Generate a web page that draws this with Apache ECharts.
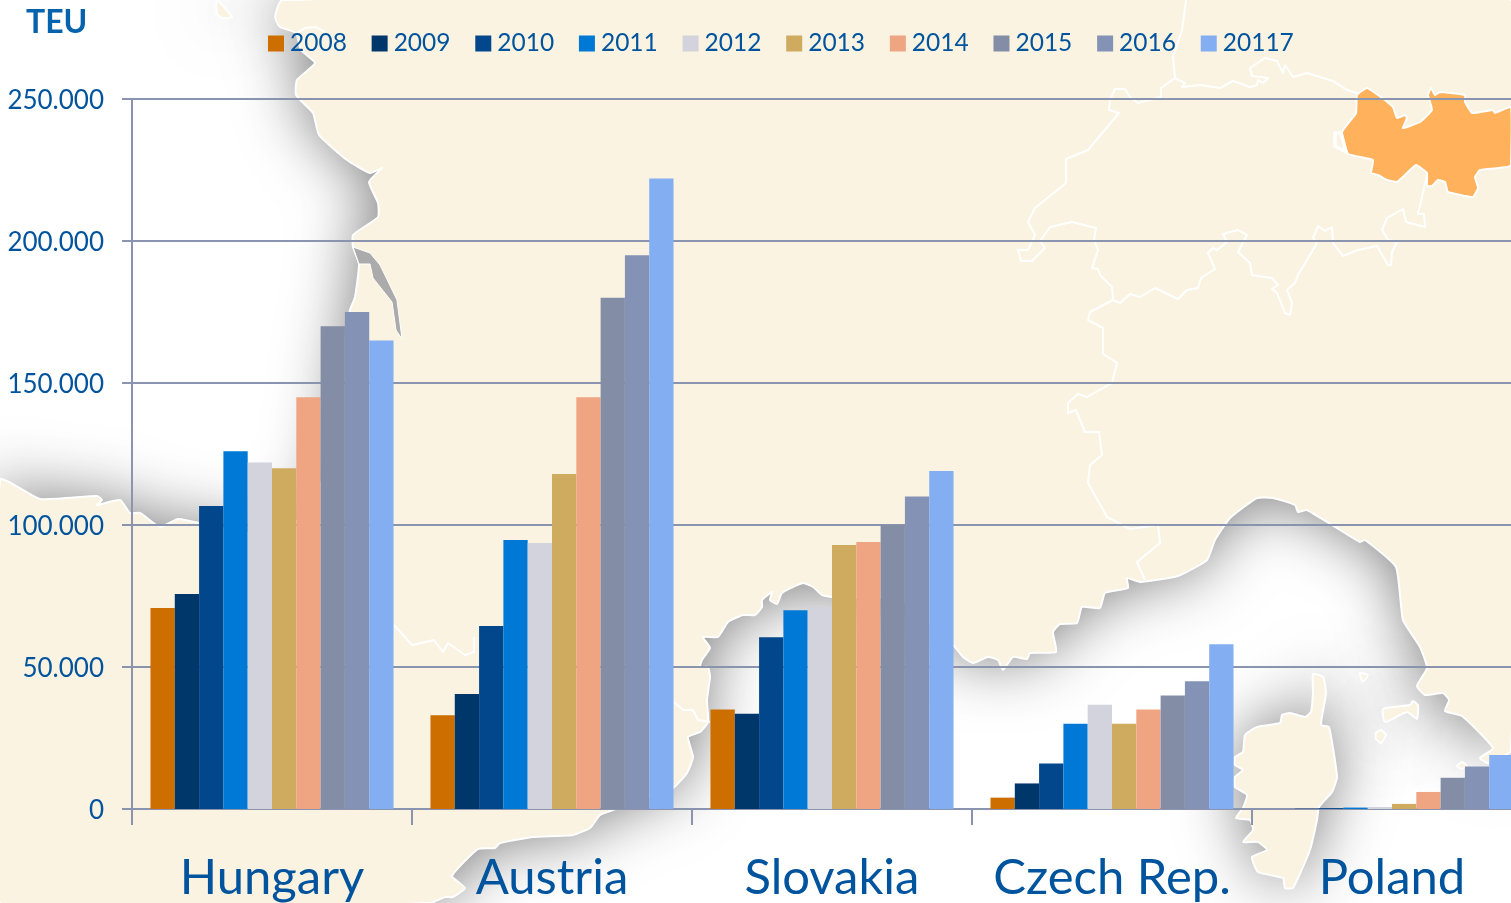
<!DOCTYPE html>
<html><head><meta charset="utf-8">
<style>html,body{margin:0;padding:0;background:#fff}#c{width:1511px;height:903px}</style>
<script src="https://cdn.jsdelivr.net/npm/echarts@6/dist/echarts.min.js"></script>
</head><body><div id="c"></div>
<script>
const categories = ['Hungary','Austria','Slovakia','Czech Rep.','Poland'];
const s2008 = [70800,33000,35000,4000,0];
const s2009 = [75700,40500,33500,9000,100];
const s2010 = [106700,64400,60500,16000,300];
const s2011 = [126000,94700,70000,30000,500];
const s2012 = [122000,93700,71000,36700,700];
const s2013 = [120000,118000,93000,30000,1800];
const s2014 = [145000,145000,94000,35000,6000];
const s2015 = [170000,180000,100000,40000,11000];
const s2016 = [175000,195000,110000,45000,15000];
const s20117 = [165000,222000,119000,58000,19000];
const seriesNames = ['2008','2009','2010','2011','2012','2013','2014','2015','2016','20117'];
const seriesValues = [s2008,s2009,s2010,s2011,s2012,s2013,s2014,s2015,s2016,s20117];
const seriesColors = ['#CC6E00','#00376B','#02478B','#0078D6','#D2D3DD','#CEAB5E','#EFA582','#848DA6','#8392B5','#83AEF2'];

// Decorative background map outlines (not data)
const mainland = [[282,0],[275,17],[280,27],[296,33],[301,50],[315,63],[297,80],[296,95],[313,113],[319,135],[347,160],[370,173],[382,168],[369,182],[378,203],[378,217],[353,235],[353,247],[359,264],[355,297],[350,310],[345,340],[338,400],[330,450],[315,500],[280,535],[225,530],[199,523],[178,519],[160,527],[140,513],[130,513],[120,500],[97,505],[102,500],[97,496],[40,499],[0,480],[0,903],[430,903],[445,897],[453,897],[465,888],[452,876],[478,849],[495,848],[500,843],[533,837],[573,835],[590,828],[600,815],[613,810],[673,788],[687,773],[693,757],[688,737],[700,732],[708,722],[707,700],[710,677],[708,667],[700,667],[702,660],[710,648],[703,637],[718,637],[728,622],[743,615],[755,615],[762,607],[762,600],[772,592],[770,600],[777,604],[782,593],[803,583],[813,587],[822,595],[832,597],[900,600],[953,645],[963,657],[973,663],[988,657],[998,660],[1003,670],[1013,657],[1027,659],[1030,653],[1056,652],[1053,632],[1060,624],[1077,623],[1082,607],[1100,608],[1105,593],[1128,588],[1127,578],[1140,582],[1178,576],[1207,560],[1215,540],[1230,518],[1257,498],[1273,498],[1295,505],[1298,512],[1307,510],[1360,542],[1365,540],[1396,567],[1403,620],[1420,647],[1427,668],[1417,686],[1425,695],[1443,693],[1449,700],[1445,711],[1462,716],[1493,748],[1480,758],[1488,763],[1511,750],[1511,0]];
const corsica = [[1313,674],[1323,677],[1326,693],[1321,725],[1329,727],[1337,777],[1332,792],[1319,807],[1317,820],[1310,850],[1293,888],[1285,888],[1283,878],[1258,872],[1252,857],[1267,850],[1258,842],[1243,842],[1253,830],[1250,820],[1236,818],[1243,808],[1247,795],[1235,787],[1235,777],[1243,770],[1235,765],[1235,757],[1243,752],[1245,735],[1257,727],[1280,723],[1282,715],[1290,713],[1305,717],[1311,712],[1313,693]];
const islets = [
  [[217,0],[232,17],[223,18],[217,14]],
  [[1360,673],[1368,675],[1365,680],[1362,681]],
  [[1383,709],[1410,705],[1413,701],[1418,705],[1417,719],[1407,712],[1385,722]],
  [[1376,733],[1381,730],[1386,735],[1381,743],[1376,739]],
  [[1457,766],[1462,762],[1467,766],[1462,769]]
];
const wedge = [[353,247],[370,253],[380,265],[397,300],[402,339],[396,330],[392,302],[373,278],[370,264],[359,264]];
const orangeRegion = [[1357,95],[1367,88],[1385,100],[1393,107],[1397,118],[1405,115],[1407,118],[1403,128],[1420,122],[1432,110],[1428,95],[1431,88],[1435,95],[1440,92],[1465,95],[1465,102],[1472,113],[1493,110],[1495,113],[1511,107],[1511,165],[1508,167],[1480,170],[1475,177],[1478,188],[1473,197],[1448,192],[1445,182],[1438,180],[1432,186],[1427,186],[1427,173],[1416,165],[1397,182],[1387,180],[1378,175],[1371,173],[1373,160],[1348,154],[1342,132],[1356,113]];
const hole = [[1335,133],[1341,133],[1346,152],[1335,146]];
const borderLines = [
  [[1186,0],[1182,30],[1173,57],[1175,78],[1161,88],[1161,97],[1138,103],[1130,97],[1125,89],[1115,89],[1110,100],[1109,110],[1119,113],[1088,150],[1066,159],[1066,183],[1035,208],[1028,222],[1035,235],[1028,250],[1018,250],[1021,261],[1032,261],[1045,248],[1040,241],[1050,227],[1072,222],[1096,228],[1094,240],[1098,250],[1092,268],[1098,269],[1100,275],[1112,287],[1113,300],[1090,312],[1088,320],[1103,328],[1103,354],[1117,363],[1112,383],[1087,397],[1078,394],[1068,403],[1068,413],[1076,410],[1085,432],[1099,432],[1102,455],[1090,465],[1088,483],[1107,517],[1130,529],[1158,525],[1160,543],[1137,562],[1145,580]],
  [[1113,300],[1120,303],[1130,294],[1140,297],[1155,288],[1178,299],[1187,290],[1198,288],[1201,278],[1215,269],[1208,253],[1213,248],[1217,250],[1227,242],[1223,234],[1238,230],[1247,235],[1238,252],[1250,263],[1252,275],[1272,278],[1278,285],[1272,289],[1277,293],[1285,313],[1290,315],[1292,303],[1287,290],[1295,283],[1298,275],[1317,243],[1313,238],[1318,226],[1325,231],[1332,227],[1333,243],[1343,256],[1358,250],[1377,246],[1388,265],[1391,265],[1392,252],[1397,242],[1388,240],[1382,230],[1387,218],[1403,209],[1406,222],[1425,227],[1424,214],[1418,214],[1427,175]],
  [[1175,78],[1185,83],[1182,87],[1200,85],[1220,88],[1233,81],[1250,87],[1257,85],[1258,80],[1263,83],[1268,78],[1252,76],[1250,68],[1265,58],[1277,61],[1283,73],[1285,65],[1293,77],[1307,73],[1333,81],[1347,90],[1357,93]],
  [[394,625],[412,645],[434,640],[443,652],[448,643],[465,655],[474,652],[474,637]],
  [[674,702],[683,710],[693,710],[698,720],[710,722]],
  [[297,33],[305,28],[316,27],[325,32]]
];

const LAND = '#FAF3E1', BLUE = '#00549E', AXIS = '#8A94AE', FONT = 'Lato, Carlito, "Noto Sans", sans-serif';
const landShapes = [mainland, corsica].concat(islets);
const graphics = [];
landShapes.forEach(p => graphics.push({type:'polygon', z:-30, silent:true, shape:{points:p, smooth:0.15},
  style:{fill:LAND, shadowBlur:62, shadowColor:'rgba(40,40,40,0.6)'}}));
landShapes.forEach(p => graphics.push({type:'polygon', z:-20, silent:true, shape:{points:p, smooth:0.15},
  style:{fill:LAND, stroke:'#fff', lineWidth:2}}));
graphics.push({type:'polygon', z:-19, silent:true, shape:{points:wedge}, style:{fill:'#ABABAB', stroke:'#fff', lineWidth:1}});
borderLines.forEach(p => graphics.push({type:'polyline', z:-18, silent:true, shape:{points:p},
  style:{fill:null, stroke:'#fff', lineWidth:2, lineJoin:'round'}}));
graphics.push({type:'polygon', z:-17, silent:true, shape:{points:orangeRegion, smooth:0.1}, style:{fill:'#FFB25B', stroke:'#fff', lineWidth:2}});
graphics.push({type:'polygon', z:-16, silent:true, shape:{points:hole}, style:{fill:LAND, stroke:'#fff', lineWidth:3.5, lineJoin:'round'}});

const chart = echarts.init(document.getElementById('c'), null, {renderer:'canvas'});
chart.setOption({
  animation:false,
  backgroundColor:'#fff',
  textStyle:{fontFamily:FONT},
  graphic:graphics,
  title:{text:'TEU', left:21, top:2, textStyle:{color:'#0563AE', fontFamily:FONT, fontWeight:'bold', fontSize:32}},
  legend:{data:seriesNames, left:268, top:31, padding:0, itemWidth:16, itemHeight:16, itemGap:24.8, icon:'rect',
    textStyle:{color:BLUE, fontFamily:FONT, fontSize:24.5, padding:[0,0,0,1]}},
  grid:{left:132, top:99, width:1400, height:710, outerBoundsMode:'none'},
  xAxis:{type:'category', data:categories,
    axisLine:{lineStyle:{color:AXIS, width:2}},
    axisTick:{show:true, length:16, lineStyle:{color:AXIS, width:2}},
    axisLabel:{color:BLUE, fontFamily:FONT, fontSize:49, margin:45, interval:0}},
  yAxis:{type:'value', min:0, max:250000, interval:50000,
    axisLine:{show:true, lineStyle:{color:AXIS, width:2}},
    axisTick:{show:true, length:10, lineStyle:{color:AXIS, width:2}},
    splitLine:{lineStyle:{color:AXIS, width:2}},
    axisLabel:{margin:28,
      formatter:v => '{v|' + String(v).replace(/\B(?=(\d{3})+$)/g,'.') + '}',
      rich:{v:{color:BLUE, fontFamily:FONT, fontSize:26, padding:[4,0,0,0]}}}},
  series:seriesNames.map((n,i)=>({name:n, type:'bar', data:seriesValues[i], barGap:0, barCategoryGap:'13.2%',
    itemStyle:{color:seriesColors[i]}}))
});
</script></body></html>
